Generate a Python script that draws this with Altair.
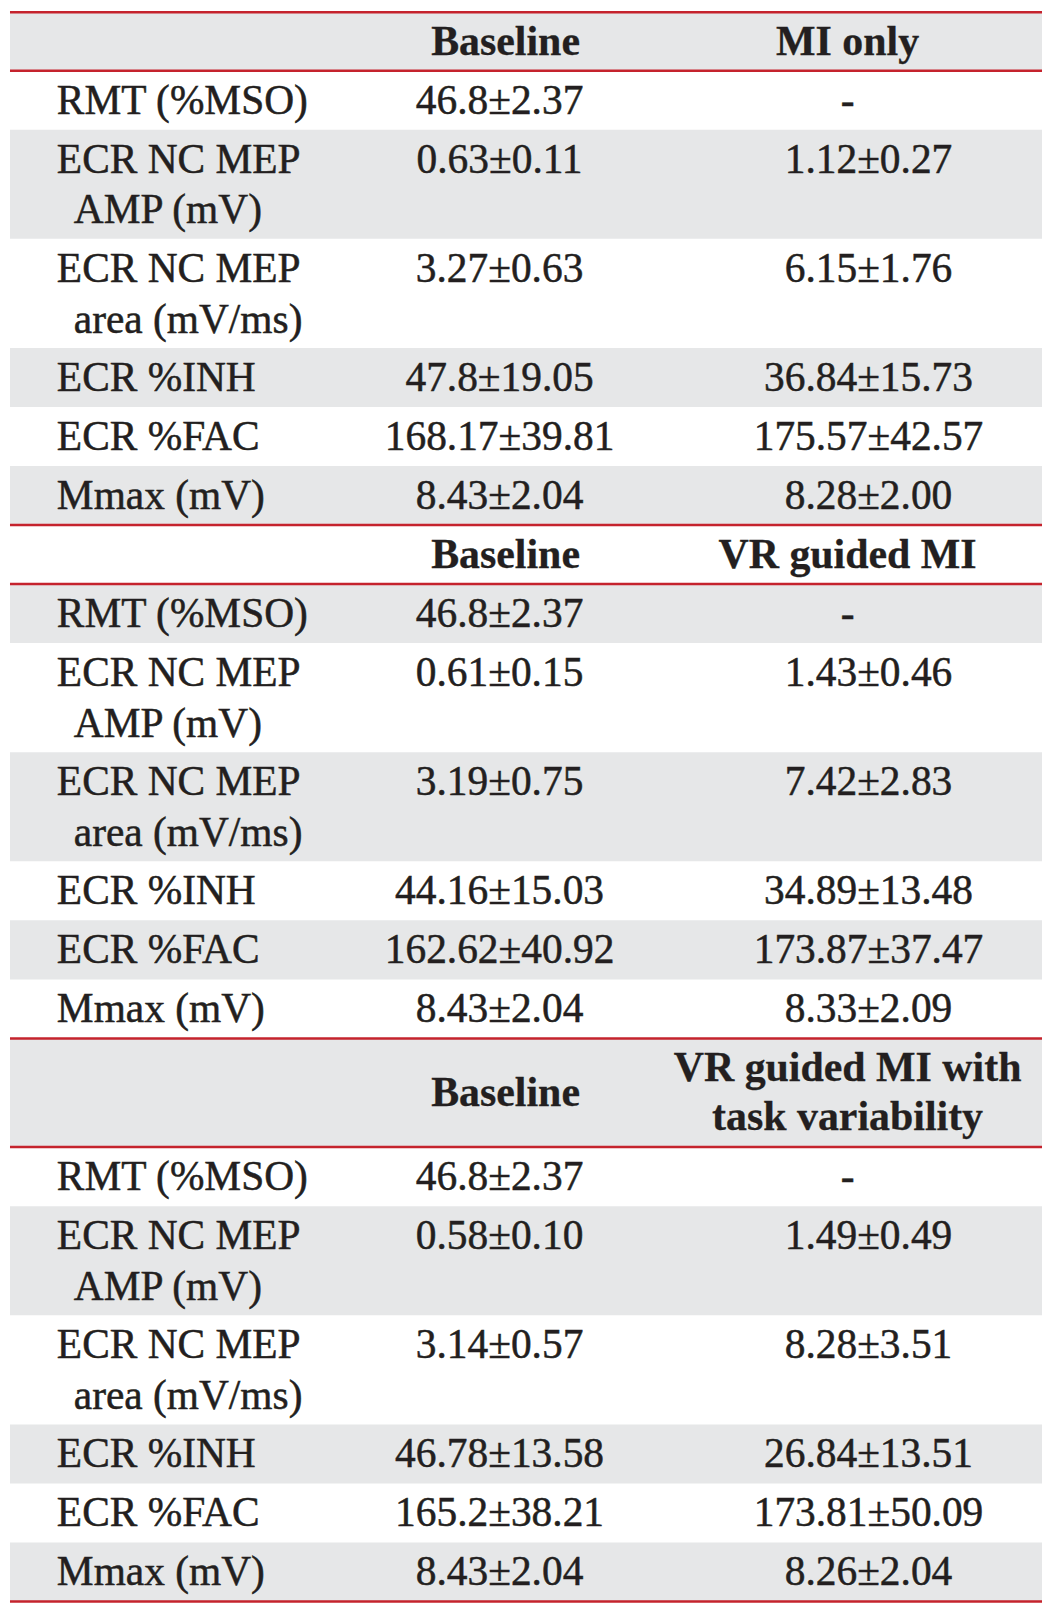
import altair as alt
import pandas as pd

# ---------------- data ----------------
row_labels = [
    ["RMT (%MSO)"],
    ["ECR NC MEP", "AMP (mV)"],
    ["ECR NC MEP", "area (mV/ms)"],
    ["ECR %INH"],
    ["ECR %FAC"],
    ["Mmax (mV)"],
]
header_left = ["Baseline", "Baseline", "Baseline"]
header_right = [["MI only"], ["VR guided MI"], ["VR guided MI with", "task variability"]]
baseline_vals = [
    ["46.8±2.37", "0.63±0.11", "3.27±0.63", "47.8±19.05", "168.17±39.81", "8.43±2.04"],
    ["46.8±2.37", "0.61±0.15", "3.19±0.75", "44.16±15.03", "162.62±40.92", "8.43±2.04"],
    ["46.8±2.37", "0.58±0.10", "3.14±0.57", "46.78±13.58", "165.2±38.21", "8.43±2.04"],
]
post_vals = [
    ["-", "1.12±0.27", "6.15±1.76", "36.84±15.73", "175.57±42.57", "8.28±2.00"],
    ["-", "1.43±0.46", "7.42±2.83", "34.89±13.48", "173.87±37.47", "8.33±2.09"],
    ["-", "1.49±0.49", "8.28±3.51", "26.84±13.51", "173.81±50.09", "8.26±2.04"],
]

# ---------------- layout (table geometry) ----------------
W = 1035
HEAD_HEIGHTS = [58.5, 59.0, 109.0]
ROW1, ROW2 = 59.2, 109.5
FIRST_BASE, LINE_GAP = 43, 51
X_LABEL, X_INDENT = 47, 17
X_BASE_HEAD, X_BASE_VAL = 497, 491
X_POST_HEAD, X_POST_VAL = 840, 861

rects, rules, texts = [], [], []
y = 0.0
idx = 0
for s in range(3):
    nl = len(header_right[s])
    h = HEAD_HEIGHTS[s]
    rects.append(dict(x=0, x2=W, y=y, y2=y + h, gray=(idx % 2 == 0)))
    rules.append(dict(x=0, x2=W, y=y))
    rules.append(dict(x=0, x2=W, y=y + h))
    hb = y + h / 2 - (nl - 1) * LINE_GAP / 2 + 13.5
    texts.append(dict(x=X_BASE_HEAD, y=y + h / 2 + 13.5, t=header_left[s], bold=True, al="center"))
    for i, line in enumerate(header_right[s]):
        texts.append(dict(x=X_POST_HEAD, y=hb + i * (LINE_GAP - 2),
                          t=line, bold=True, al="center"))
    y += h
    idx += 1
    for r in range(6):
        lines = row_labels[r]
        h = ROW1 if len(lines) == 1 else ROW2
        rects.append(dict(x=0, x2=W, y=y, y2=y + h, gray=(idx % 2 == 0)))
        for i, line in enumerate(lines):
            texts.append(dict(x=X_LABEL + (X_INDENT if i > 0 else 0),
                              y=y + FIRST_BASE + i * LINE_GAP,
                              t=line, bold=False, al="left"))
        texts.append(dict(x=X_BASE_VAL, y=y + FIRST_BASE, t=baseline_vals[s][r],
                          bold=False, al="center"))
        pv = post_vals[s][r]
        texts.append(dict(x=X_POST_HEAD if pv == "-" else X_POST_VAL, y=y + FIRST_BASE,
                          t=pv, bold=False, al="center"))
        y += h
        idx += 1
rules.append(dict(x=0, x2=W, y=y))
TOTAL = y

rect_df = pd.DataFrame(rects)
rule_df = pd.DataFrame(rules)
text_df = pd.DataFrame(texts)

H = TOTAL + 4
xs = alt.Scale(domain=[0, W], nice=False, zero=False)
ys = alt.Scale(domain=[-1.0, H - 1.0], nice=False, zero=False, reverse=True)

bg = alt.Chart(rect_df[rect_df["gray"]]).mark_rect(color="#e6e7e8").encode(
    x=alt.X("x:Q", scale=xs, axis=None), x2="x2:Q",
    y=alt.Y("y:Q", scale=ys, axis=None), y2="y2:Q",
)

redlines = alt.Chart(rule_df).mark_rule(color="#c5232d", strokeWidth=2.5).encode(
    x=alt.X("x:Q", scale=xs, axis=None), x2="x2:Q",
    y=alt.Y("y:Q", scale=ys, axis=None),
)

FONT = "Liberation Serif"
COLOR = "#231f20"


def text_layer(df, bold, align):
    return alt.Chart(df).mark_text(
        font=FONT, fontSize=42 if bold else 41.5, fontWeight="bold" if bold else "normal",
        align=align, baseline="alphabetic", color=COLOR,
        stroke=COLOR, strokeWidth=0.3 if bold else 0.5,
    ).encode(
        x=alt.X("x:Q", scale=xs, axis=None),
        y=alt.Y("y:Q", scale=ys, axis=None),
        text="t:N",
    )


layers = [bg, redlines]
for bold in (True, False):
    for align in ("left", "center"):
        sub = text_df[(text_df["bold"] == bold) & (text_df["al"] == align)]
        if len(sub):
            layers.append(text_layer(sub, bold, align))

chart = alt.layer(*layers).properties(
    width=W, height=H, padding=0, background="white"
).configure_view(stroke=None)

chart.save("out.html", embed_options={"renderer": "svg", "actions": False})
